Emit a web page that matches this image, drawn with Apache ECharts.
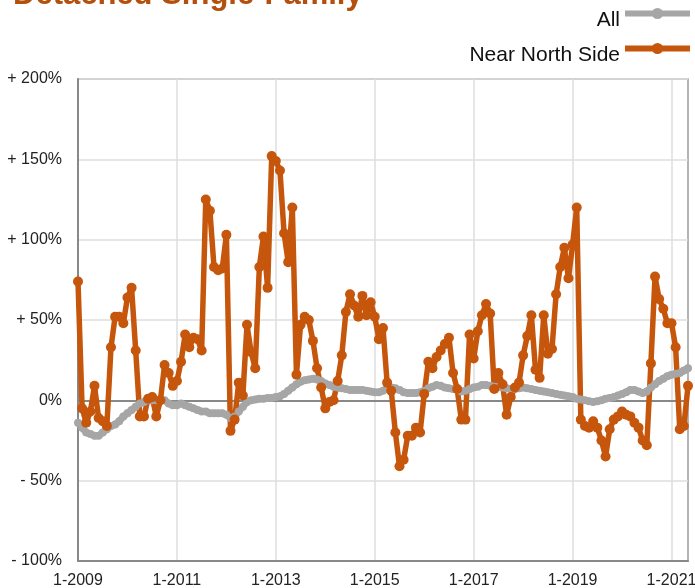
<!DOCTYPE html>
<html>
<head>
<meta charset="utf-8">
<script src="https://cdn.jsdelivr.net/npm/echarts@6/dist/echarts.min.js"></script>
<style>
html,body{margin:0;padding:0;background:#fff;}
#chart{width:695px;height:588px;}
</style>
</head>
<body>
<div id="chart"></div>
<script>
// Monthly categories from 1-2009 to 5-2021
var startYear = 2009, startMonth = 1, monthCount = 149;
var categories = [];
for (var k = 0; k < monthCount; k++) {
  var m = (startMonth - 1 + k) % 12 + 1;
  var y = startYear + Math.floor((startMonth - 1 + k) / 12);
  categories.push(m + '-' + y);
}

var seriesNames = ['All', 'Near North Side'];

// Year-over-year change (%), all areas
var allValues = [
  -14, -17, -20, -21, -22, -22, -20, -18, -16, -15, -13, -10,
  -8, -6, -4, -2, -1, 0, 0, 0, 0, 0, -2, -3,
  -3, -2, -3, -4, -5, -6, -7, -7, -8, -8, -8, -8,
  -9, -11, -10, -7, -4, -1, 0, 0.5, 1, 1, 1.5, 1.5,
  2, 2.5, 4, 6, 8, 10, 11.5, 12.5, 13, 13.5, 13, 12,
  10.5, 9.5, 8.5, 8, 7.5, 7, 6.5, 6.5, 6.5, 6.5, 6, 5.5,
  5, 5, 6, 7.5, 8, 7.5, 6.5, 5, 4.5, 4.5, 4.5, 5,
  6, 7.5, 8.5, 9.5, 9, 8, 7.5, 7, 6.5, 5.5, 6, 7,
  8, 8.5, 9.5, 9.5, 9, 8.5, 8.5, 8, 7.5, 7, 7, 7.5,
  8, 7.5, 7, 6.5, 6, 5.5, 5, 4.5, 4, 3.5, 3, 2.5,
  2, 1, 0.5, 0, -0.5, -1, -0.5, 0, 1, 1.5, 2, 3,
  4, 5, 6.5, 6.5, 5.5, 4.5, 5.5, 8, 10, 12, 13.5, 15,
  16, 16.5, 17, 18.5, 20
];

// Year-over-year change (%), Near North Side
var nnsValues = [
  74, -5, -14, -7, 9, -11, -13, -16, 33, 52, 52, 48,
  64, 70, 31, -10, -10, 1, 2, -10, 0, 22, 17, 9,
  12, 24, 41, 33, 39, 38, 31, 125, 118, 83, 81, 82,
  103, -19, -12, 11, 3, 47, 30, 20, 83, 102, 70, 152,
  149, 143, 104, 86, 120, 16, 47, 52, 50, 37, 20, 8,
  -5, -1, 0, 12, 28, 55, 66, 59, 52, 65, 53, 61,
  52, 38, 45, 11, 6, -20, -41, -37, -22, -22, -17, -20,
  4, 24, 20, 27, 31, 35, 39, 17, 7, -12, -12, 41,
  26, 43, 53, 60, 54, 7, 17, 10, -9, 2, 8, 11,
  28, 40, 53, 19, 14, 53, 29, 32, 66, 83, 95, 76,
  97, 120, -12, -16, -17, -13, -17, -25, -35, -18, -12, -10,
  -7, -9, -10, -14, -17, -25, -28, 23, 77, 63, 57, 48,
  48, 33, -18, -16, 9
];

var yTicks = { min: -100, max: 200, step: 50 };

var FONT = '"Liberation Sans", Arial, Helvetica, sans-serif';
var chart = echarts.init(document.getElementById('chart'), null, { renderer: 'canvas' });

chart.setOption({
  animation: false,
  backgroundColor: '#ffffff',
  title: {
    text: 'Detached Single-Family',
    left: 13,
    top: -20,
    padding: 0,
    textStyle: { fontFamily: FONT, fontSize: 31, fontWeight: 'bold', color: '#b4500d' }
  },
  legend: {
    orient: 'vertical',
    right: 2,
    top: -4,
    padding: 0,
    align: 'right',
    itemWidth: 65,
    itemHeight: 14,
    itemGap: 0,
    data: seriesNames,
    lineStyle: { width: 6 },
    formatter: function (name) { return '{t|' + name + '}'; },
    textStyle: {
      fontFamily: FONT, fontSize: 21, color: '#111',
      rich: { t: { fontFamily: FONT, fontSize: 21, color: '#111', lineHeight: 21, padding: [14, 0, 0, 0] } }
    }
  },
  grid: {
    left: 78, right: 7, top: 79, bottom: 27,
    outerBoundsMode: 'none',
    containLabel: false,
    show: true, borderColor: '#9a9a9a', borderWidth: 1.5, backgroundColor: 'transparent'
  },
  xAxis: [{
    type: 'category',
    data: categories,
    boundaryGap: false,
    axisLine: { onZero: false, lineStyle: { color: '#888', width: 2 } },
    axisTick: { show: false },
    axisLabel: { interval: 23, color: '#222', fontFamily: FONT, fontSize: 16, margin: 12 },
    splitLine: { show: true, interval: 23, lineStyle: { color: '#dedede', width: 1.5 } }
  }, {
    type: 'category',
    data: categories,
    boundaryGap: false,
    position: 'bottom',
    axisLine: { onZero: true, lineStyle: { color: '#888', width: 2 } },
    axisTick: { show: false },
    axisLabel: { show: false },
    splitLine: { show: false }
  }],
  yAxis: {
    type: 'value',
    min: yTicks.min,
    max: yTicks.max,
    interval: yTicks.step,
    axisLine: { show: true, lineStyle: { color: '#888', width: 2 } },
    axisTick: { show: false },
    axisLabel: {
      color: '#222', fontFamily: FONT, fontSize: 16, margin: 16,
      formatter: function (v) {
        if (v > 0) return '+ ' + v + '%';
        if (v < 0) return '- ' + Math.abs(v) + '%';
        return '0%';
      }
    },
    splitLine: { show: true, lineStyle: { color: '#dedede', width: 1.5 } }
  },
  series: [{
    name: seriesNames[0],
    type: 'line',
    data: allValues,
    symbol: 'circle',
    symbolSize: 8,
    showAllSymbol: true,
    itemStyle: { color: '#a6a6a6' },
    lineStyle: { color: '#a6a6a6', width: 7 }
  }, {
    name: seriesNames[1],
    type: 'line',
    data: nnsValues,
    symbol: 'circle',
    symbolSize: 10,
    showAllSymbol: true,
    itemStyle: { color: '#c5560b' },
    lineStyle: { color: '#c5560b', width: 5.5 }
  }]
});
</script>
</body>
</html>
